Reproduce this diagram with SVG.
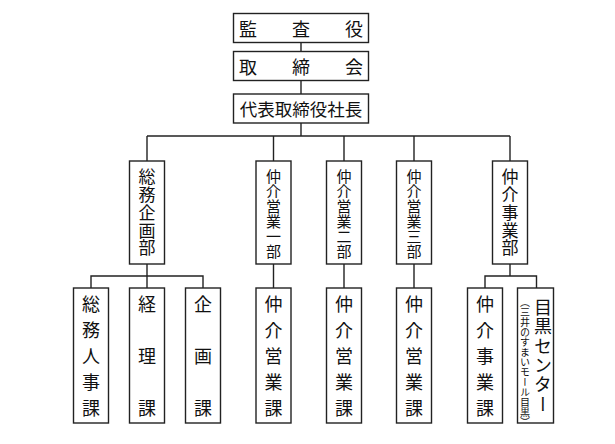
<svg xmlns="http://www.w3.org/2000/svg" width="615" height="444" viewBox="0 0 615 444">
<style>
rect{fill:#fff;stroke:#222;stroke-width:1.4}
.c line,.c path{stroke:#222;stroke-width:1.4;fill:none}
text{font-family:"Noto Sans CJK JP","Noto Sans CJK SC",sans-serif;fill:#111;dominant-baseline:central}
.t{font-size:18px}
.v{writing-mode:vertical-rl;text-anchor:start}
.m{font-size:17px}
.s{font-size:15px}
.b{font-size:18px}
</style>
<rect x="0" y="0" width="615" height="444" style="fill:#fff;stroke:none"/>
<g class="c" id="connectors">
<line x1="301" y1="43" x2="301" y2="51"/>
<line x1="301" y1="81" x2="301" y2="94"/>
<line x1="301" y1="123" x2="301" y2="136"/>
<line x1="147" y1="136" x2="510" y2="136"/>
<line x1="147" y1="136" x2="147" y2="161"/>
<line x1="273.5" y1="136" x2="273.5" y2="161"/>
<line x1="344" y1="136" x2="344" y2="161"/>
<line x1="414" y1="136" x2="414" y2="161"/>
<line x1="510" y1="136" x2="510" y2="161"/>
<line x1="147" y1="264" x2="147" y2="288"/>
<path d="M91 288V276H203V288"/>
<line x1="273.5" y1="264" x2="273.5" y2="288"/>
<line x1="344" y1="264" x2="344" y2="288"/>
<line x1="414" y1="264" x2="414" y2="288"/>
<line x1="510" y1="264" x2="510" y2="276"/>
<path d="M485 288V276H536.5V288"/>
</g>
<g id="kansayaku"><rect x="233.5" y="13.5" width="135" height="29"/><text class="t" x="239" y="28">監<tspan dx="35">査</tspan><tspan dx="35">役</tspan></text></g>
<g id="torishimarikai"><rect x="233.5" y="51.5" width="135" height="29"/><text class="t" x="239" y="66">取<tspan dx="35">締</tspan><tspan dx="35">会</tspan></text></g>
<g id="ceo"><rect x="233.5" y="94" width="135" height="29"/><text style="font-size:17.5px;text-anchor:middle" x="301" y="108.5">代表取締役社長</text></g>
<g id="soumu-kikaku"><rect x="129.5" y="161" width="35" height="103"/><text class="v m" x="147" y="168.5">総<tspan dy="0.75">務</tspan><tspan dy="0.75">企</tspan><tspan dy="0.75">画</tspan><tspan dy="0.75">部</tspan></text></g>
<g id="eigyo1"><rect x="256" y="161" width="35" height="103"/><text class="v s" x="273.5" y="168.5">仲介営業一部</text></g>
<g id="eigyo2"><rect x="326.5" y="161" width="35" height="103"/><text class="v s" x="344" y="168.5">仲介営業二部</text></g>
<g id="eigyo3"><rect x="396.5" y="161" width="35" height="103"/><text class="v s" x="414" y="168.5">仲介営業三部</text></g>
<g id="jigyo"><rect x="492.5" y="161" width="35" height="103"/><text class="v m" x="510" y="168.5">仲<tspan dy="0.75">介</tspan><tspan dy="0.75">事</tspan><tspan dy="0.75">業</tspan><tspan dy="0.75">部</tspan></text></g>
<g id="soumu-jinji"><rect x="73.5" y="288" width="35" height="135"/><text class="v b" x="91" y="295">総<tspan dy="8">務</tspan><tspan dy="8">人</tspan><tspan dy="8">事</tspan><tspan dy="8">課</tspan></text></g>
<g id="keiri"><rect x="129.5" y="288" width="35" height="135"/><text class="v b" x="147" y="295">経<tspan dy="34">理</tspan><tspan dy="34">課</tspan></text></g>
<g id="kikaku"><rect x="185.5" y="288" width="35" height="135"/><text class="v b" x="203" y="295">企<tspan dy="34">画</tspan><tspan dy="34">課</tspan></text></g>
<g id="eigyoka1"><rect x="256" y="288" width="35" height="135"/><text class="v b" x="273.5" y="295">仲<tspan dy="8">介</tspan><tspan dy="8">営</tspan><tspan dy="8">業</tspan><tspan dy="8">課</tspan></text></g>
<g id="eigyoka2"><rect x="326.5" y="288" width="35" height="135"/><text class="v b" x="344" y="295">仲<tspan dy="8">介</tspan><tspan dy="8">営</tspan><tspan dy="8">業</tspan><tspan dy="8">課</tspan></text></g>
<g id="eigyoka3"><rect x="396.5" y="288" width="35" height="135"/><text class="v b" x="414" y="295">仲<tspan dy="8">介</tspan><tspan dy="8">営</tspan><tspan dy="8">業</tspan><tspan dy="8">課</tspan></text></g>
<g id="jigyoka"><rect x="467.5" y="288" width="35" height="135"/><text class="v b" x="485" y="295">仲<tspan dy="8">介</tspan><tspan dy="8">事</tspan><tspan dy="8">業</tspan><tspan dy="8">課</tspan></text></g>
<g id="meguro"><rect x="517.5" y="288" width="36" height="135"/><text class="v" style="font-size:18px" x="543" y="298">目<tspan dy="1.4">黒</tspan><tspan dy="1.4">セ</tspan><tspan dy="1.4">ン</tspan><tspan dy="1.4">タ</tspan><tspan dy="1.4">ー</tspan></text><text class="v" style="font-size:10px" x="525" y="297">（三井のすまいモール目黒）</text></g>
</svg>
